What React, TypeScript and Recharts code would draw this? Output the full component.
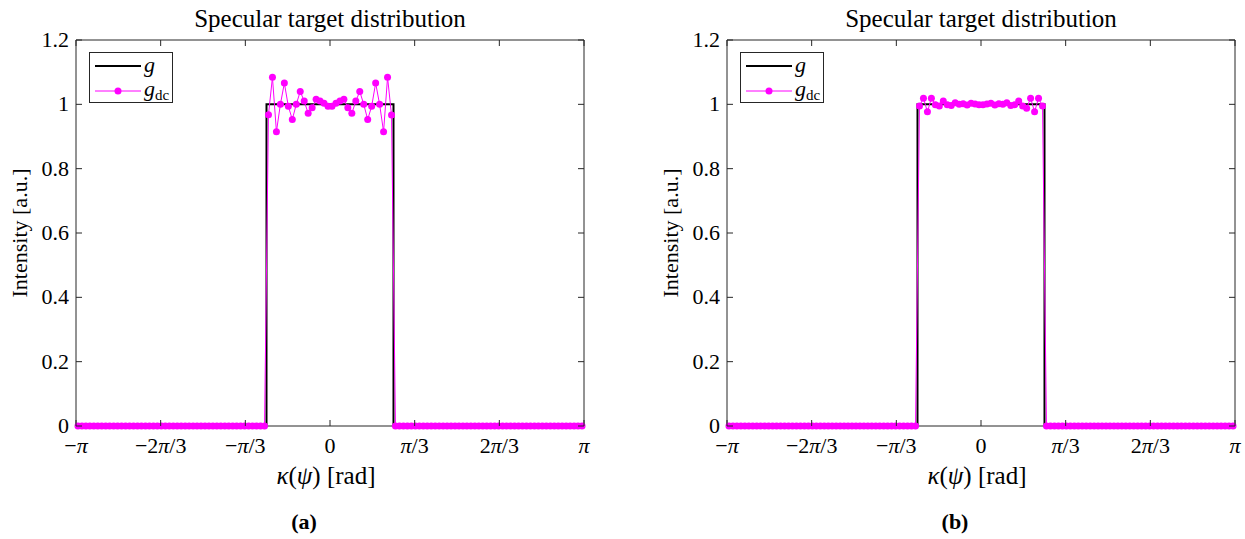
import { LineChart, Line, XAxis, YAxis } from 'recharts'

const PI = Math.PI
const SAMPLES = 128
const STEP = (2 * PI) / SAMPLES
// sample grid (cell midpoints)
const sampleX = Array.from({ length: SAMPLES }, (_, i) => -PI + STEP / 2 + i * STEP)

// the 48 samples on each side of the plateau all read as zero
const outsideZeros: number[] = new Array(48).fill(0)

// 32 samples on the plateau, panel (a)
const plateauA = [
  0.968, 1.084, 0.915, 1.0, 1.066, 0.994, 0.953, 1.0, 1.04, 1.01, 0.972, 0.989, 1.016, 1.01, 1.003, 0.994,
  0.994, 1.003, 1.01, 1.016, 0.989, 0.972, 1.01, 1.04, 1.0, 0.953, 0.994, 1.066, 1.0, 0.915, 1.084, 0.967,
]
// 32 samples on the plateau, panel (b)
const plateauB = [
  0.995, 1.019, 0.977, 1.019, 0.999, 0.995, 1.01, 0.999, 0.996, 1.005, 1.0, 1.002, 0.998, 1.003, 1.001, 0.999,
  0.999, 1.001, 1.003, 0.998, 1.002, 1.0, 1.005, 0.996, 0.999, 1.01, 0.995, 0.988, 1.019, 0.977, 1.019, 0.995,
]

const gdcA = [...outsideZeros, ...plateauA, ...outsideZeros]
const gdcB = [...outsideZeros, ...plateauB, ...outsideZeros]

// target g: rectangle on [-pi/4, pi/4]
const gX = [-PI, -PI / 4, -PI / 4, PI / 4, PI / 4, PI]
const gY = [0, 0, 1, 1, 0, 0]

const xTicks = [-PI, (-2 * PI) / 3, -PI / 3, 0, PI / 3, (2 * PI) / 3, PI]
const xTickLabels = ['−π', '−2π/3', '−π/3', '0', 'π/3', '2π/3', 'π']
const yTicks = [0, 0.2, 0.4, 0.6, 0.8, 1, 1.2]
const yTickLabels = ['0', '0.2', '0.4', '0.6', '0.8', '1', '1.2']

const AXIS = '#262626'
const MAGENTA = '#ff00ff'
const FONT = '"Liberation Serif", "Times New Roman", serif'
const FS = 22
const TICK_LEN = 6

const gData = gX.map((x, i) => ({ x, g: gY[i] }))
const toSeries = (vals: number[]) => sampleX.map((x, i) => ({ x, gdc: vals[i] }))

function withPi(label: string) {
  return label.split('').map((ch, i) =>
    ch === 'π' ? (
      <tspan key={i} fontStyle="italic">
        π
      </tspan>
    ) : (
      <tspan key={i}>{ch}</tspan>
    )
  )
}

function nearestIndex(list: number[], v: number) {
  let best = 0
  list.forEach((t, i) => {
    if (Math.abs(t - v) < Math.abs(list[best] - v)) best = i
  })
  return best
}

const BottomTick = (props: any) => {
  const { x, y, payload } = props
  const idx = nearestIndex(xTicks, payload.value)
  return (
    <g>
      <line x1={x} x2={x} y1={y} y2={y - TICK_LEN} stroke={AXIS} />
      <text x={x} y={y + 27} textAnchor="middle" fontFamily={FONT} fontSize={FS} fill="#000">
        {withPi(xTickLabels[idx])}
      </text>
    </g>
  )
}

const TopTick = (props: any) => {
  const { x, y } = props
  return <line x1={x} x2={x} y1={y} y2={y + TICK_LEN} stroke={AXIS} />
}

const LeftTick = (props: any) => {
  const { x, y, payload } = props
  const idx = nearestIndex(yTicks, payload.value)
  return (
    <g>
      <line x1={x} x2={x + TICK_LEN} y1={y} y2={y} stroke={AXIS} />
      <text x={x - 7} y={y + 7} textAnchor="end" fontFamily={FONT} fontSize={FS} fill="#000">
        {yTickLabels[idx]}
      </text>
    </g>
  )
}

const RightTick = (props: any) => {
  const { x, y } = props
  return <line x1={x} x2={x - TICK_LEN} y1={y} y2={y} stroke={AXIS} />
}

const LegendBox = ({ left }: { left: number }) => (
  <div
    style={{
      position: 'absolute',
      left,
      top: 52,
      width: 82,
      height: 49,
      border: `1px solid ${AXIS}`,
      background: '#fff',
    }}
  >
    <svg width={82} height={49} style={{ position: 'absolute', left: 0, top: 0 }}>
      <line x1={5} x2={51} y1={13} y2={13} stroke="#000" strokeWidth={2} />
      <line x1={5} x2={51} y1={38} y2={38} stroke={MAGENTA} strokeWidth={1} />
      <circle cx={28} cy={38} r={3.5} fill={MAGENTA} />
      <text x={54} y={19} fontFamily={FONT} fontSize={FS} fontStyle="italic">
        g
      </text>
      <text x={54} y={43} fontFamily={FONT} fontSize={FS}>
        <tspan fontStyle="italic">g</tspan>
        <tspan fontSize={15} dy={4}>
          dc
        </tspan>
      </text>
    </svg>
  </div>
)

function Panel({ values, width, marginLeft, marginRight }: { values: number[]; width: number; marginLeft: number; marginRight: number }) {
  const series = toSeries(values)
  return (
    <LineChart width={width} height={539} margin={{ top: 39, left: marginLeft - 1, right: marginRight - 1, bottom: 112 }}>
      <XAxis
        xAxisId="b"
        type="number"
        dataKey="x"
        domain={[-PI, PI]}
        ticks={xTicks}
        height={1}
        tickSize={0}
        tickMargin={0}
        tickLine={false}
        axisLine={{ stroke: AXIS }}
        tick={<BottomTick />}
        interval={0}
      />
      <XAxis
        xAxisId="t"
        orientation="top"
        type="number"
        dataKey="x"
        domain={[-PI, PI]}
        ticks={xTicks}
        height={1}
        tickSize={0}
        tickMargin={0}
        tickLine={false}
        axisLine={{ stroke: AXIS }}
        tick={<TopTick />}
        interval={0}
      />
      <YAxis
        yAxisId="l"
        type="number"
        domain={[0, 1.2]}
        ticks={yTicks}
        width={1}
        tickSize={0}
        tickMargin={0}
        tickLine={false}
        axisLine={{ stroke: AXIS }}
        tick={<LeftTick />}
        interval={0}
      />
      <YAxis
        yAxisId="r"
        orientation="right"
        type="number"
        domain={[0, 1.2]}
        ticks={yTicks}
        width={1}
        tickSize={0}
        tickMargin={0}
        tickLine={false}
        axisLine={{ stroke: AXIS }}
        tick={<RightTick />}
        interval={0}
      />
      <Line
        xAxisId="t"
        yAxisId="r"
        data={gData}
        dataKey="g"
        stroke="transparent"
        dot={false}
        isAnimationActive={false}
      />
      <Line
        xAxisId="b"
        yAxisId="l"
        data={gData}
        dataKey="g"
        stroke="#000"
        strokeWidth={2}
        dot={false}
        isAnimationActive={false}
      />
      <Line
        xAxisId="b"
        yAxisId="l"
        data={series}
        dataKey="gdc"
        stroke={MAGENTA}
        strokeWidth={1}
        dot={{ r: 3.5, fill: MAGENTA, stroke: MAGENTA, strokeWidth: 0, clipDot: false }}
        isAnimationActive={false}
      />
    </LineChart>
  )
}

const textBase: React.CSSProperties = {
  position: 'absolute',
  fontFamily: FONT,
  fontSize: 22,
  color: '#000',
  whiteSpace: 'nowrap',
  transform: 'translate(-50%, -50%)',
}

function Captions({ cx, sub }: { cx: number; sub: string }) {
  return (
    <>
      <div style={{ ...textBase, left: cx, top: 19, fontSize: 25 }}>Specular target distribution</div>
      <div style={{ ...textBase, left: cx - 4, top: 476, fontSize: 25 }}>
        <i>κ</i>(<i>ψ</i>) [rad]
      </div>
      <div style={{ ...textBase, left: cx - 26, top: 522, fontWeight: 'bold' }}>{sub}</div>
    </>
  )
}

export default function App() {
  return (
    <div style={{ position: 'absolute', left: 0, top: 0, width: 1245, height: 539, background: '#fff' }}>
      <div style={{ position: 'absolute', left: 0, top: 0 }}>
        <Panel values={gdcA} width={622} marginLeft={76} marginRight={38} />
        <LegendBox left={89} />
      </div>
      <div style={{ position: 'absolute', left: 622, top: 0 }}>
        <Panel values={gdcB} width={623} marginLeft={105} marginRight={10} />
        <LegendBox left={118} />
      </div>
      <Captions cx={330} sub="(a)" />
      <Captions cx={981} sub="(b)" />
      <div style={{ ...textBase, left: 20, top: 233, transform: 'translate(-50%, -50%) rotate(-90deg)' }}>Intensity [a.u.]</div>
      <div style={{ ...textBase, left: 671, top: 233, transform: 'translate(-50%, -50%) rotate(-90deg)' }}>Intensity [a.u.]</div>
    </div>
  )
}
